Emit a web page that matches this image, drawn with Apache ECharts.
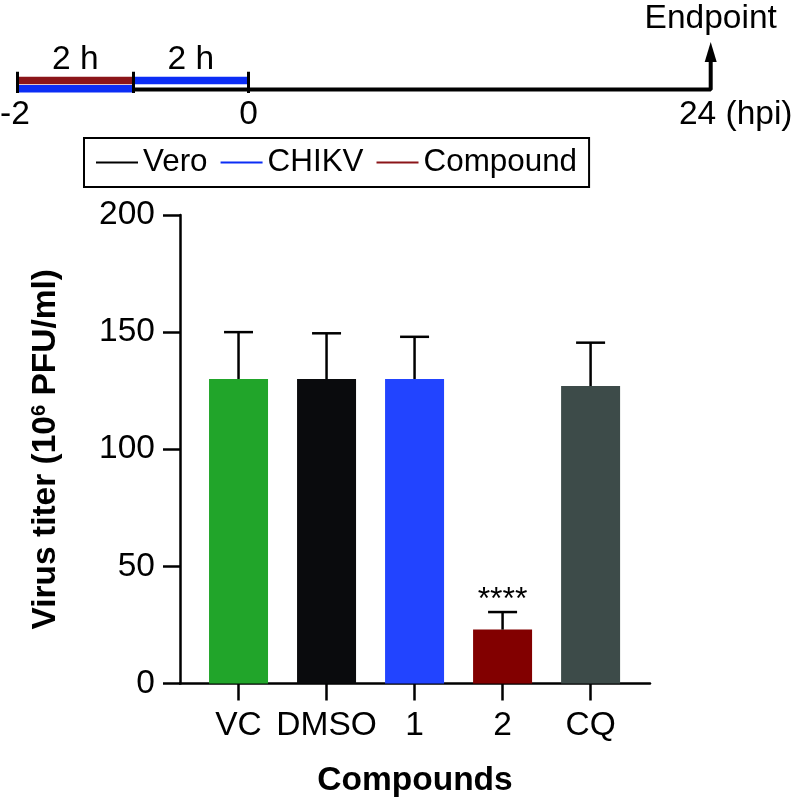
<!DOCTYPE html>
<html><head><meta charset="utf-8">
<script src="https://cdn.jsdelivr.net/npm/echarts@6/dist/echarts.min.js"></script>
<style>html,body{margin:0;padding:0;background:#fff}#c{width:799px;height:799px}</style>
</head><body><div id="c"></div>
<script>
// ---- data ----
const categories = ['VC', 'DMSO', '1', '2', 'CQ'];
const means = [130, 130, 130, 23, 127];
const upperSD = [150, 149.5, 148, 30.5, 145.5];
const barColors = ['#21a52a', '#0a0b0d', '#2244ff', '#820000', '#3d4b49'];
const significance = ['', '', '', '****', ''];
const yMin = 0, yMax = 200, yStep = 50;
// timeline (schematic slots: -2 h, -1 h, 0 h, 24 hpi)
const timeSlots = [0, 1, 2, 6];
const timeTickLabels = {0: '-2', 2: '0', 6: '24 (hpi)'};
const periodLabels = ['2 h', '2 h'];
const legendNames = ['Vero', 'CHIKV', 'Compound'];

const FONT = '"Liberation Sans", Arial, Helvetica, sans-serif';
const FS = 33.5;
const chart = echarts.init(document.getElementById('c'));

function renderErr(params, api) {
  const x = api.value(0), lo = api.value(1), hi = api.value(2);
  const p1 = api.coord([x, lo]);
  const p2 = api.coord([x, hi]);
  const st = {stroke: '#000', lineWidth: 2.5};
  const children = [
    {type: 'line', shape: {x1: p1[0], y1: p1[1], x2: p2[0], y2: p2[1]}, style: st},
    {type: 'line', shape: {x1: p2[0] - 14.5, y1: p2[1], x2: p2[0] + 14.5, y2: p2[1]}, style: st}
  ];
  const s = significance[params.dataIndex];
  if (s) {
    children.push({type: 'text', style: {text: s, x: p2[0], y: p2[1] - 12, align: 'center',
      verticalAlign: 'middle', fontSize: 32, fontFamily: FONT, fill: '#000'}});
  }
  return {type: 'group', children};
}

const option = {
  animation: false,
  textStyle: {fontFamily: FONT},
  legend: {
    left: 84, top: 138, padding: [9, 12], itemWidth: 42, itemHeight: 2, itemGap: 13,
    icon: 'rect', borderColor: '#000', borderWidth: 2, selectedMode: false,
    textStyle: {fontSize: 31.4, color: '#000', fontFamily: FONT},
    data: legendNames
  },
  grid: [
    {left: 180, top: 215, width: 470, height: 468.5, outerBoundsMode: 'none', containLabel: false},
    {left: 17.5, top: 72, width: 693.2, height: 21, outerBoundsMode: 'none', containLabel: false}
  ],
  xAxis: [
    {type: 'value', gridIndex: 0, min: -0.665, max: 4.675,
     axisLine: {show: true, onZero: false, lineStyle: {color: '#000', width: 2.5}},
     axisTick: {show: true, customValues: [0, 1, 2, 3, 4], length: 17, lineStyle: {color: '#000', width: 2.5}},
     axisLabel: {customValues: [0, 1, 2, 3, 4], formatter: v => categories[Math.round(v)],
       fontSize: FS, color: '#000', margin: 25, fontFamily: FONT},
     splitLine: {show: false},
     name: 'Compounds', nameLocation: 'middle', nameGap: 80,
     nameTextStyle: {fontSize: FS, fontWeight: 'bold', color: '#000', fontFamily: FONT}},
    {type: 'value', gridIndex: 1, min: 0, max: 6, z: 5,
     axisLine: {show: false, onZero: false},
     axisTick: {show: true, customValues: timeSlots.slice(0, 3), inside: true, length: 21.3,
       lineStyle: {color: '#000', width: 3}},
     axisLabel: {customValues: [0, 2, 6], margin: 5, fontSize: FS, color: '#000',
       formatter: v => {
         const t = timeTickLabels[Math.round(v)];
         if (v === 0) return '{l|' + t + '}';
         if (v === 6) return '{r|' + t + '}';
         return '{c|' + t + '}';
       },
       rich: {
         l: {fontSize: FS, color: '#000', fontFamily: FONT, padding: [0, 5, 0, 0]},
         c: {fontSize: FS, color: '#000', fontFamily: FONT},
         r: {fontSize: FS, color: '#000', fontFamily: FONT, padding: [0, 0, 0, 50]}
       }},
     splitLine: {show: false}},
    {type: 'value', gridIndex: 1, min: 0, max: 6, position: 'top',
     axisLine: {show: false, onZero: false}, axisTick: {show: false},
     axisLabel: {customValues: [0.5, 1.5], formatter: v => periodLabels[Math.floor(v)],
       verticalAlign: 'middle', margin: 12, fontSize: FS, color: '#000', fontFamily: FONT},
     splitLine: {show: false}}
  ],
  yAxis: [
    {type: 'value', gridIndex: 0, min: yMin, max: yMax, interval: yStep,
     axisLine: {show: true, onZero: false, lineStyle: {color: '#000', width: 2.5}},
     axisTick: {show: true, length: 17, lineStyle: {color: '#000', width: 2.5}},
     axisLabel: {fontSize: FS, color: '#000', margin: 25, fontFamily: FONT},
     splitLine: {show: false},
     name: '{b|Virus titer (10}{s|6}{b| PFU/ml)}', nameLocation: 'middle', nameRotate: 90, nameGap: 117,
     nameTextStyle: {color: '#000', fontSize: FS, fontWeight: 'bold', fontFamily: FONT,
       rich: {
         b: {fontSize: FS, fontWeight: 'bold', color: '#000', fontFamily: FONT},
         s: {fontSize: 20, fontWeight: 'bold', color: '#000', fontFamily: FONT, verticalAlign: 'top'}
       }}},
    {type: 'value', gridIndex: 1, min: 0, max: 21, show: false}
  ],
  series: [
    {type: 'bar', xAxisIndex: 0, yAxisIndex: 0, barWidth: 59,
     data: means.map((m, i) => ({value: [i, m], itemStyle: {color: barColors[i]}}))},
    {type: 'custom', xAxisIndex: 0, yAxisIndex: 0, z: 3, renderItem: renderErr,
     data: means.map((m, i) => [i, m, upperSD[i]])},
    {type: 'line', name: 'Vero', xAxisIndex: 1, yAxisIndex: 1, color: '#000', clip: false,
     lineStyle: {width: 4, color: '#000'}, symbol: 'circle', symbolSize: 0, showAllSymbol: true,
     data: [[timeSlots[0], 3.5], [timeSlots[3], 3.5],
       {value: [timeSlots[3], 41], symbol: 'triangle', symbolSize: [12, 20], itemStyle: {color: '#000'},
        label: {show: true, position: 'top', distance: 6, formatter: 'Endpoint', fontSize: FS,
          color: '#000', fontFamily: FONT}}]},
    {type: 'line', name: 'CHIKV', xAxisIndex: 1, yAxisIndex: 1, color: '#0b2df5', clip: false,
     lineStyle: {width: 7.5, color: '#0b2df5'}, symbol: 'none', connectNulls: false,
     data: [[timeSlots[0], 4.2], [timeSlots[1], 4.2], [timeSlots[1], '-'], [timeSlots[1], 12.4], [timeSlots[2], 12.4]]},
    {type: 'line', name: 'Compound', xAxisIndex: 1, yAxisIndex: 1, color: '#8b1519', clip: false,
     lineStyle: {width: 7.5, color: '#8b1519'}, symbol: 'none',
     data: [[timeSlots[0], 12.4], [timeSlots[1], 12.4]]}
  ]
};
chart.setOption(option);
</script></body></html>
